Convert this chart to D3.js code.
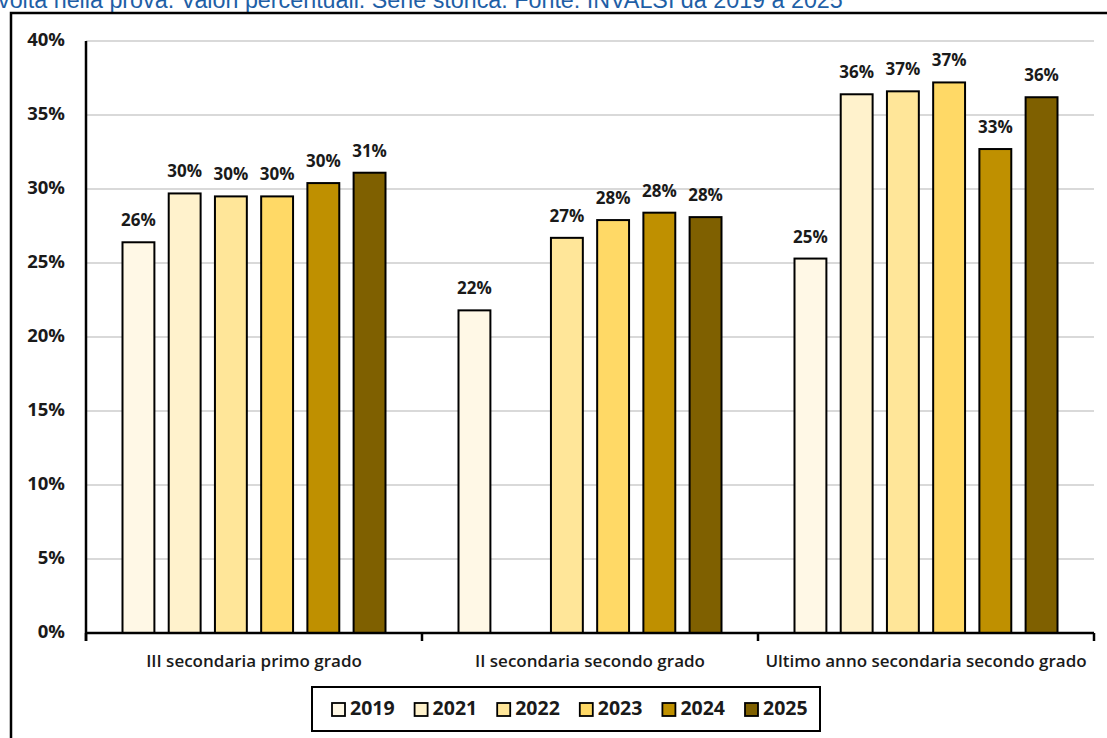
<!DOCTYPE html>
<html>
<head>
<meta charset="utf-8">
<script src="https://cdn.jsdelivr.net/npm/d3@7"></script>
<style>
  html, body { margin: 0; padding: 0; background: #fff; overflow: hidden; }
  svg { display: block; }
</style>
</head>
<body>
<svg id="chart" width="1107" height="738"></svg>
<script>
// ---- data ----
const titleText = "volta nella prova. Valori percentuali. Serie storica. Fonte: INVALSI da 2019 a 2025";
const categories = ["III secondaria primo grado", "II secondaria secondo grado", "Ultimo anno secondaria secondo grado"];
const years = ["2019", "2021", "2022", "2023", "2024", "2025"];
const values2019 = [26.4, 21.8, 25.3];
const values2021 = [29.7, null, 36.4];
const values2022 = [29.5, 26.7, 36.6];
const values2023 = [29.5, 27.9, 37.2];
const values2024 = [30.4, 28.4, 32.7];
const values2025 = [31.1, 28.1, 36.2];
const yTicks = [0, 5, 10, 15, 20, 25, 30, 35, 40];
const colors = ["#FFF8E6", "#FFF2CC", "#FFE699", "#FFD966", "#BF9000", "#7F6000"];

const series = [values2019, values2021, values2022, values2023, values2024, values2025];

(function () {
const svg = d3.select("#chart");
const pl = 86, pr = 1094, pt = 41, pb = 633;

// title (cut off at top, as in the reference)
svg.append("text")
  .attr("x", -2).attr("y", 8)
  .attr("font-family", "Liberation Sans, Arial, sans-serif")
  .attr("font-size", 23.3)
  .attr("fill", "#1F5FA6")
  .text(titleText);

// outer border
svg.append("path")
  .attr("d", "M11,760 L11,13 L1120,13")
  .attr("fill", "none").attr("stroke", "#000").attr("stroke-width", 2.5);

const y = d3.scaleLinear().domain([0, 40]).range([pb, pt]);
const x0 = d3.scaleBand().domain(categories).range([pl, pr]).padding(0);
const outer = 36.5;
const x1 = d3.scaleBand().domain(years).range([outer, x0.bandwidth() - outer]).paddingInner(0.31).paddingOuter(0);

// gridlines
svg.append("g").selectAll("line").data(yTicks.filter(t => t > 0)).join("line")
  .attr("x1", pl).attr("x2", pr)
  .attr("y1", d => y(d)).attr("y2", d => y(d))
  .attr("stroke", "#D9D9D9").attr("stroke-width", 2);

// y tick labels
svg.append("g").selectAll("text").data(yTicks).join("text")
  .attr("x", 65).attr("y", d => y(d))
  .attr("text-anchor", "end").attr("dominant-baseline", "middle")
  .attr("font-family", "Open Sans, sans-serif").attr("font-weight", 700)
  .attr("font-size", 18.5).attr("fill", "#1a1a1a")
  .text(d => d + "%");

// bars
const barData = [];
categories.forEach((c, ci) => {
  years.forEach((yr, yi) => {
    const v = series[yi][ci];
    if (v != null) barData.push({ cat: c, year: yr, yi, v });
  });
});

const g = svg.append("g");
g.selectAll("rect").data(barData).join("rect")
  .attr("x", d => x0(d.cat) + x1(d.year))
  .attr("y", d => y(d.v))
  .attr("width", x1.bandwidth())
  .attr("height", d => y(0) - y(d.v))
  .attr("fill", d => colors[d.yi])
  .attr("stroke", "#000").attr("stroke-width", 2);

// data labels
g.selectAll("text").data(barData).join("text")
  .attr("x", d => x0(d.cat) + x1(d.year) + x1.bandwidth() / 2)
  .attr("y", d => y(d.v) - 16)
  .attr("text-anchor", "middle")
  .attr("font-family", "Open Sans, sans-serif").attr("font-weight", 700)
  .attr("font-size", 17).attr("fill", "#1a1a1a")
  .text(d => Math.round(d.v) + "%");

// axes lines
svg.append("line").attr("x1", pl).attr("x2", pl).attr("y1", pt).attr("y2", pb + 8)
  .attr("stroke", "#000").attr("stroke-width", 2.5);
svg.append("line").attr("x1", pl).attr("x2", pr).attr("y1", pb).attr("y2", pb)
  .attr("stroke", "#000").attr("stroke-width", 2.5);
const boundaries = categories.map(c => x0(c)).concat([x0(categories[categories.length - 1]) + x0.bandwidth()]);
svg.append("g").selectAll("line").data(boundaries).join("line")
  .attr("x1", d => d).attr("x2", d => d).attr("y1", pb).attr("y2", pb + 8)
  .attr("stroke", "#000").attr("stroke-width", 2.5);

// category labels
svg.append("g").selectAll("text").data(categories).join("text")
  .attr("x", d => x0(d) + x0.bandwidth() / 2)
  .attr("y", 667)
  .attr("text-anchor", "middle")
  .attr("font-family", "Open Sans, sans-serif").attr("font-weight", 600)
  .attr("font-size", 17).attr("fill", "#1a1a1a")
  .text(d => d);

// legend
const lg = svg.append("g");
lg.append("rect").attr("x", 312).attr("y", 687).attr("width", 508).attr("height", 44)
  .attr("fill", "#fff").attr("stroke", "#000").attr("stroke-width", 2);
const lx = d3.scalePoint().domain(years).range([332, 745]);
const items = lg.selectAll("g.item").data(years).join("g").attr("class", "item")
  .attr("transform", d => `translate(${lx(d)},703)`);
items.append("rect").attr("width", 13).attr("height", 13)
  .attr("fill", (d, i) => colors[i]).attr("stroke", "#000").attr("stroke-width", 1.8);
items.append("text").attr("x", 18).attr("y", 6.5).attr("dominant-baseline", "middle")
  .attr("font-family", "Open Sans, sans-serif").attr("font-weight", 700)
  .attr("font-size", 19.5).attr("fill", "#1a1a1a")
  .text(d => d);
})();
</script>
</body>
</html>
